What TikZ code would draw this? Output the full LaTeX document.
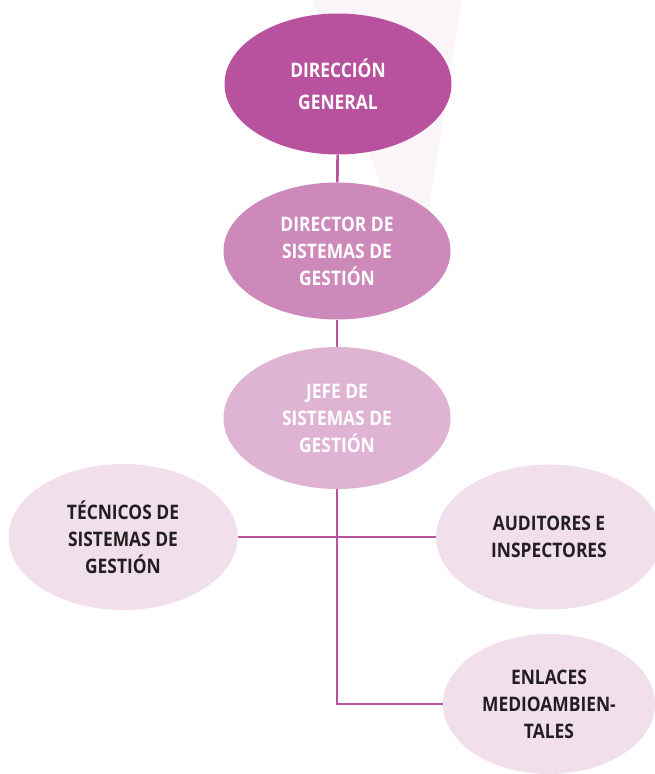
\documentclass[tikz,border=0pt]{standalone}
\usepackage{fontspec}
\setmainfont{Open Sans}[FakeStretch=0.87]
\usetikzlibrary{shapes.geometric}

\definecolor{lineC}{HTML}{B9539F}
\definecolor{dirC}{HTML}{B9529E}
\definecolor{dsgC}{HTML}{CD89BA}
\definecolor{jsgC}{HTML}{DFB3D4}
\definecolor{baseC}{HTML}{F1E0EC}
\definecolor{textD}{HTML}{231F20}
\definecolor{beamC}{HTML}{FBF5F9}

\tikzset{
  org/.style={ellipse, inner sep=0pt, align=center,
    font=\fontsize{20}{27}\selectfont\bfseries},
  lvlone/.style={org, fill=dirC, text=white},
  lvltwo/.style={org, fill=dsgC, text=white},
  lvlthree/.style={org, fill=jsgC, text=white},
  lvlfour/.style={org, fill=baseC, text=textD},
  link/.style={draw=lineC, line width=2.6pt}
}

\begin{document}
\begin{tikzpicture}[x=1pt, y=-1pt]
  \useasboundingbox (0,0) rectangle (655,774);

  % faint beam behind the top
  \fill [beamC] (312,0) -- (462,0) -- (428,215) -- (392,215) -- cycle;

  % Drawing the levels
  \node [lvlone, minimum width=227pt, minimum height=141pt,
    font=\fontsize{20}{32}\selectfont\bfseries] (dg) at (338,84)
    {DIRECCIÓN\\GENERAL};
  \node [lvltwo, minimum width=227pt, minimum height=137pt] (dsg) at (337,251)
    {DIRECTOR DE\\SISTEMAS DE\\GESTIÓN};
  \node [lvlthree, minimum width=227pt, minimum height=142pt] (jsg) at (337,418)
    {JEFE DE\\SISTEMAS DE\\GESTIÓN};

  % Drawing the lower row
  \node [lvlfour, minimum width=229pt, minimum height=146pt] (tec) at (123,537)
    {TÉCNICOS DE\\SISTEMAS DE\\GESTIÓN};
  \node [lvlfour, minimum width=226pt, minimum height=145pt] (aud) at (549,537)
    {AUDITORES E\\INSPECTORES};
  \node [lvlfour, minimum width=212pt, minimum height=140pt] (enl) at (549,704)
    {ENLACES\\MEDIOAMBIEN-\\TALES};

  % Drawing the connectors
  \draw [link] (dg) -- (dsg);
  \draw [link] (dsg) -- (jsg);
  \draw [link] (jsg.south) |- (enl.west);
  \draw [link] (tec.east) -- (aud.west);
\end{tikzpicture}
\end{document}
